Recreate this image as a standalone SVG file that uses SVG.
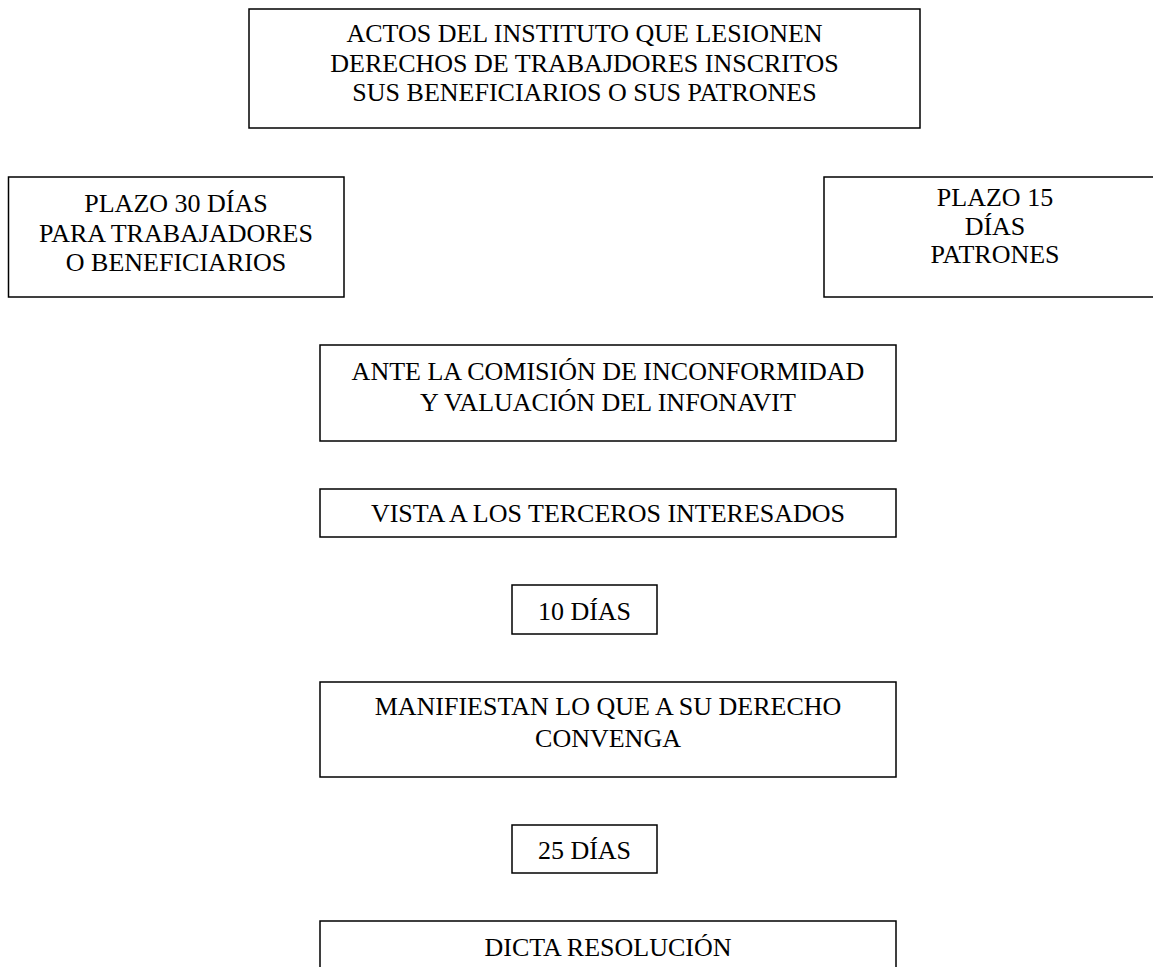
<svg xmlns="http://www.w3.org/2000/svg" width="1153" height="967" viewBox="0 0 1153 967">
<style>
.box{fill:#fff;stroke:#000;stroke-width:1.5}
.t{font-family:"Liberation Serif","Times New Roman",serif;font-size:26px;fill:#000;text-anchor:middle}
</style>
<rect width="1153" height="967" fill="#fff"/>
<g id="connectors"/>
<g id="n-actos">
<rect class="box" x="249" y="9" width="671" height="119"/>
<text class="t" x="584.5" y="42">ACTOS DEL INSTITUTO QUE LESIONEN</text>
<text class="t" x="584.5" y="72">DERECHOS DE TRABAJDORES INSCRITOS</text>
<text class="t" x="584.5" y="101">SUS BENEFICIARIOS O SUS PATRONES</text>
</g>
<g id="n-plazo30">
<rect class="box" x="8.5" y="177" width="335.5" height="120"/>
<text class="t" x="176" y="212">PLAZO 30 DÍAS</text>
<text class="t" x="176" y="241.5">PARA TRABAJADORES</text>
<text class="t" x="176" y="271">O BENEFICIARIOS</text>
</g>
<g id="n-plazo15">
<rect class="box" x="824" y="177" width="342" height="120"/>
<text class="t" x="995" y="206">PLAZO 15</text>
<text class="t" x="995" y="234.5">DÍAS</text>
<text class="t" x="995" y="263">PATRONES</text>
</g>
<g id="n-ante">
<rect class="box" x="320" y="345" width="576" height="96"/>
<text class="t" x="608" y="379.5">ANTE LA COMISIÓN DE INCONFORMIDAD</text>
<text class="t" x="608" y="410.5">Y VALUACIÓN DEL INFONAVIT</text>
</g>
<g id="n-vista">
<rect class="box" x="320" y="489" width="576" height="48"/>
<text class="t" x="608" y="521.5">VISTA A LOS TERCEROS INTERESADOS</text>
</g>
<g id="n-10dias">
<rect class="box" x="512" y="585" width="145" height="49"/>
<text class="t" x="584.5" y="620">10 DÍAS</text>
</g>
<g id="n-manifiestan">
<rect class="box" x="320" y="682" width="576" height="95"/>
<text class="t" x="608" y="715">MANIFIESTAN LO QUE A SU DERECHO</text>
<text class="t" x="608" y="747">CONVENGA</text>
</g>
<g id="n-25dias">
<rect class="box" x="512" y="825" width="145" height="48"/>
<text class="t" x="584.5" y="859">25 DÍAS</text>
</g>
<g id="n-dicta">
<rect class="box" x="320" y="921" width="576" height="70"/>
<text class="t" x="608" y="956">DICTA RESOLUCIÓN</text>
</g>
</svg>
